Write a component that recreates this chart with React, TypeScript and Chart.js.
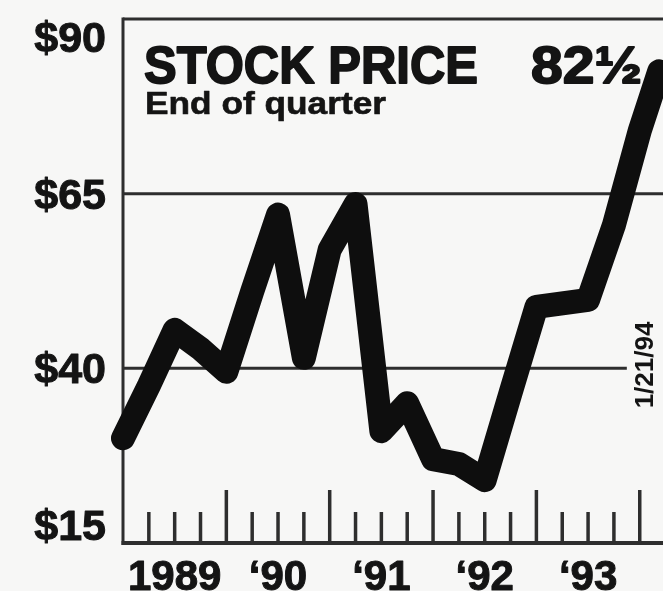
import React, { useEffect, useRef } from "react";
import { Chart, registerables } from "chart.js";

Chart.register(...registerables);

// Quarter index: 0 = start of 1989, each step = one quarter; last point = 1/21/94
const quarterIndex = [0, 1, 2, 3, 4, 5, 6, 7, 8, 9, 10, 11, 12, 13, 14, 15, 16, 17, 18, 19, 20, 20.75];
const prices = [30, 37.5, 45.5, 42.8, 39.5, 51, 62, 41.5, 57, 63.5, 31, 35, 27, 26.3, 24, 36.5, 48.8, 49.3, 49.8, 60.5, 74, 82.5];

const yTickValues = [90, 65, 40, 15];
const yTickLabels = ["$90", "$65", "$40", "$15"];
const gridValues = [65, 40];
const yearLabels = ["1989", "\u201890", "\u201891", "\u201892", "\u201893"];
const yearCenters = [2, 6, 10, 14, 18];
const quarterTicks = [1, 2, 3, 4, 5, 6, 7, 8, 9, 10, 11, 12, 13, 14, 15, 16, 17, 18, 19, 20];

const titleText = "STOCK PRICE";
const lastPriceText = "82\u00bd";
const subtitleText = "End of quarter";
const dateText = "1/21/94";

const INK = "#141414";
const RULE = "#2e2e2e";
const FONT = "'Liberation Sans', Arial, sans-serif";

function fitText(ctx: CanvasRenderingContext2D, text: string, x: number, y: number, w: number, font: string, heavy = 0) {
  ctx.save();
  ctx.font = font;
  ctx.textAlign = "left";
  ctx.textBaseline = "alphabetic";
  const m = ctx.measureText(text).width;
  ctx.translate(x, y);
  ctx.scale(w / m, 1);
  ctx.fillText(text, 0, 0);
  if (heavy > 0) {
    ctx.lineWidth = heavy;
    ctx.lineJoin = "round";
    ctx.strokeStyle = INK;
    ctx.strokeText(text, 0, 0);
  }
  ctx.restore();
}

function heavyText(ctx: CanvasRenderingContext2D, text: string, x: number, y: number, heavy: number) {
  ctx.fillText(text, x, y);
  ctx.lineWidth = heavy;
  ctx.lineJoin = "round";
  ctx.strokeStyle = INK;
  ctx.strokeText(text, x, y);
}

const decor = {
  id: "decor",
  beforeDraw(chart: any) {
    const ctx = chart.ctx as CanvasRenderingContext2D;
    ctx.save();
    ctx.fillStyle = "#f7f7f6";
    ctx.fillRect(0, 0, chart.width, chart.height);
    ctx.restore();
  },
  beforeDatasetsDraw(chart: any) {
    const ctx = chart.ctx as CanvasRenderingContext2D;
    const a = chart.chartArea;
    const x = chart.scales.x;
    const y = chart.scales.y;
    const line = (x1: number, y1: number, x2: number, y2: number) => {
      ctx.beginPath();
      ctx.moveTo(x1, y1);
      ctx.lineTo(x2, y2);
      ctx.stroke();
    };
    ctx.save();
    ctx.strokeStyle = RULE;
    ctx.lineCap = "butt";
    ctx.lineWidth = 3;
    for (const v of gridValues) {
      const py = y.getPixelForValue(v);
      const xEnd = v === 40 ? x.getPixelForValue(19.5) : a.right;
      line(a.left, py, xEnd, py);
    }
    const topY = y.getPixelForValue(90);
    const botY = y.getPixelForValue(15);
    line(a.left, topY, a.right, topY);
    line(a.left, topY - 1.5, a.left, botY + 2);
    ctx.lineWidth = 4;
    line(a.left - 1.5, botY, a.right, botY);
    ctx.lineWidth = 3.5;
    for (const q of quarterTicks) {
      const px = x.getPixelForValue(q);
      const len = q % 4 === 0 ? 53 : 31;
      line(px, botY, px, botY - len);
    }

    // texts
    ctx.fillStyle = INK;
    fitText(ctx, titleText, 144, 83, 334, `bold 52px ${FONT}`, 1.8);
    fitText(ctx, lastPriceText, 531, 83, 111, `bold 52px ${FONT}`, 1.8);
    fitText(ctx, subtitleText, 145, 114, 241, `bold 31px ${FONT}`, 0.6);

    // y labels
    ctx.font = `bold 43px ${FONT}`;
    ctx.textAlign = "right";
    ctx.textBaseline = "alphabetic";
    yTickValues.forEach((v, i) => {
      const py = y.getPixelForValue(v);
      const off = v === 90 ? 33 : v === 15 ? -3 : 15;
      heavyText(ctx, yTickLabels[i], 106, py + off, 1);
    });

    // x labels
    ctx.font = `bold 42px ${FONT}`;
    ctx.textAlign = "center";
    yearLabels.forEach((t, i) => {
      heavyText(ctx, t, x.getPixelForValue(yearCenters[i]), botY + 47, 1);
    });

    // date label
    ctx.save();
    ctx.translate(653, 365);
    ctx.rotate(-Math.PI / 2);
    ctx.font = `bold 26px ${FONT}`;
    ctx.textAlign = "center";
    ctx.textBaseline = "alphabetic";
    ctx.fillText(dateText, 0, 0);
    ctx.restore();

    ctx.restore();
  },
};

export default function App() {
  const ref = useRef<HTMLCanvasElement | null>(null);
  useEffect(() => {
    if (!ref.current) return;
    const chart = new Chart(ref.current, {
      type: "line",
      data: {
        datasets: [
          {
            data: quarterIndex.map((q, i) => ({ x: q, y: prices[i] })),
            borderColor: "#0e0e0e",
            borderWidth: 24,
            borderCapStyle: "round",
            borderJoinStyle: "round",
            pointRadius: 0,
            tension: 0,
            fill: false,
            clip: false,
          },
        ],
      },
      options: {
        animation: false,
        responsive: false,
        devicePixelRatio: 1,
        layout: { padding: { left: 123, top: 19, right: 0, bottom: 48 } },
        plugins: { legend: { display: false }, tooltip: { enabled: false }, title: { display: false } },
        scales: {
          x: { type: "linear", min: 0, max: 20.9, display: false },
          y: { type: "linear", min: 15, max: 90, display: false },
        },
        events: [],
      },
      plugins: [decor],
    });
    return () => chart.destroy();
  }, []);
  return (
    <div style={{ position: "absolute", left: 0, top: 0, width: 663, height: 591 }}>
      <canvas ref={ref} width={663} height={591} style={{ display: "block" }} />
    </div>
  );
}
